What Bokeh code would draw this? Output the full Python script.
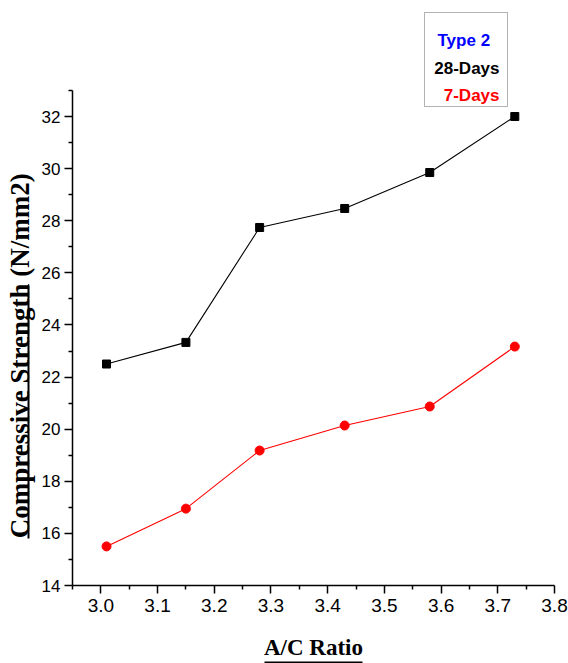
from bokeh.plotting import figure
from bokeh.models import (Range1d, FixedTicker, NumeralTickFormatter, Label,
                          BoxAnnotation, LinearAxis)
from bokeh.embed import file_html
from bokeh.resources import INLINE

# ---- data ----
ratio = [3.01, 3.15, 3.28, 3.43, 3.58, 3.73]
days28 = [22.50, 23.33, 27.74, 28.47, 29.85, 32.00]
days7 = [15.50, 16.95, 19.18, 20.14, 20.87, 23.17]
x_ticks = [3.0, 3.1, 3.2, 3.3, 3.4, 3.5, 3.6, 3.7, 3.8]
x_minor = [2.95, 3.05, 3.15, 3.25, 3.35, 3.45, 3.55, 3.65, 3.75]
y_ticks = [14, 16, 18, 20, 22, 24, 26, 28, 30, 32]
y_minor = [15, 17, 19, 21, 23, 25, 27, 29, 31, 33]
legend_title = "Type 2"
series_names = ["28-Days", "7-Days"]
x_title = "A/C Ratio"
y_title = "Compressive Strength (N/mm2)"

# ---- layout (canvas pixels) ----
X0, X1 = 2.95, 3.8
Y0, YAX = 14, 33
FL, FR, FB = 72, 554, 585
Y_TOP_PX = 116            # pixel of y = 32
FT = 4
PX_PER_Y = (FB - Y_TOP_PX) / (32 - Y0)
Y1 = Y0 + (FB - FT) / PX_PER_Y
W, H = 568, 663


def px_x(px):
    return X0 + (px - FL) * (X1 - X0) / (FR - FL)


def px_y(py):
    return Y0 + (FB - py) / PX_PER_Y


SANS = "Liberation Sans"
SERIF = "Liberation Serif"

p = figure(frame_width=FR - FL, frame_height=FB - FT,
           min_border_left=FL, min_border_right=W - FR,
           min_border_top=FT, min_border_bottom=H - FB,
           x_range=Range1d(X0, X1), y_range=Range1d(Y0, Y1),
           output_backend="svg", toolbar_location=None)
p.outline_line_color = None
p.grid.visible = False
p.background_fill_color = "white"
p.border_fill_color = "white"


def style_axis(ax):
    ax.axis_line_color = "black"
    ax.axis_line_width = 1.5
    ax.major_tick_line_color = "black"
    ax.major_tick_line_width = 1.5
    ax.minor_tick_line_color = "black"
    ax.minor_tick_line_width = 1.5
    ax.major_tick_in = 0
    ax.major_tick_out = 8
    ax.minor_tick_in = 0
    ax.minor_tick_out = 4
    ax.major_label_text_color = "black"
    ax.major_label_text_font = SANS


xa, ya = p.xaxis[0], p.yaxis[0]
style_axis(xa)
style_axis(ya)
xa.ticker = FixedTicker(ticks=x_ticks, minor_ticks=x_minor)
ya.ticker = FixedTicker(ticks=y_ticks, minor_ticks=y_minor)
ya.bounds = (Y0, YAX)
xa.formatter = NumeralTickFormatter(format="0.0")
ya.formatter = NumeralTickFormatter(format="0")
xa.major_label_text_font_size = "19px"
ya.major_label_text_font_size = "17px"
xa.major_label_standoff = 5
ya.major_label_standoff = 4

# gap between y tick labels and the y title
ya.axis_label = "\u00a0"
ya.axis_label_text_font_size = "1px"
ya.axis_label_standoff = 6

# x title on main x axis, underline as a bounded extra axis below it
xa.axis_label = x_title
xa.axis_label_text_font = SERIF
xa.axis_label_text_font_style = "bold"
xa.axis_label_text_font_size = "23px"
xa.axis_label_text_color = "black"
xa.axis_label_standoff = 20

x_ul = LinearAxis(ticker=FixedTicker(ticks=[]), bounds=(px_x(264), px_x(362)),
                  axis_line_color="black", axis_line_width=2,
                  major_tick_out=0, minor_tick_out=0, major_tick_in=0, minor_tick_in=0,
                  major_label_text_font_size="0px")
p.add_layout(x_ul, "below")

# underlined y title: bounded axis line = underline, its label = title
y_pad = "\u00a0" * 18     # shifts the centred title down to the reference position
y_ul = LinearAxis(ticker=FixedTicker(ticks=[]), bounds=(px_y(538), px_y(285)),
                  axis_line_color="black", axis_line_width=2,
                  major_tick_out=0, minor_tick_out=0, major_tick_in=0, minor_tick_in=0,
                  major_label_text_font_size="0px",
                  axis_label=y_title + y_pad, axis_label_standoff=-6,
                  axis_label_text_font=SERIF, axis_label_text_font_style="bold",
                  axis_label_text_font_size="27px", axis_label_text_color="black")
p.add_layout(y_ul, "left")

# ---- series ----
p.line(ratio, days28, line_color="black", line_width=1.1)
p.scatter(ratio, days28, marker="square", size=8, fill_color="black", line_color="black")
p.line(ratio, days7, line_color="red", line_width=1.1)
p.scatter(ratio, days7, marker="circle", size=9, fill_color="red", line_color="red")

# ---- legend box ----
p.add_layout(BoxAnnotation(left=px_x(424), right=px_x(507), top=px_y(12), bottom=px_y(106),
                           fill_color="white", fill_alpha=1, line_color="black", line_width=1))
p.add_layout(Label(x=px_x(437), y=px_y(40), text=legend_title, text_align="left",
                   text_baseline="alphabetic", text_font=SANS, text_font_style="bold",
                   text_font_size="17px", text_color="blue"))
p.add_layout(Label(x=px_x(499), y=px_y(68), text=series_names[0], text_align="right",
                   text_baseline="alphabetic", text_font=SANS, text_font_style="bold",
                   text_font_size="17px", text_color="black"))
p.add_layout(Label(x=px_x(499), y=px_y(95), text=series_names[1], text_align="right",
                   text_baseline="alphabetic", text_font=SANS, text_font_style="bold",
                   text_font_size="17px", text_color="red"))

open("out.html", "w").write(file_html(p, INLINE))
